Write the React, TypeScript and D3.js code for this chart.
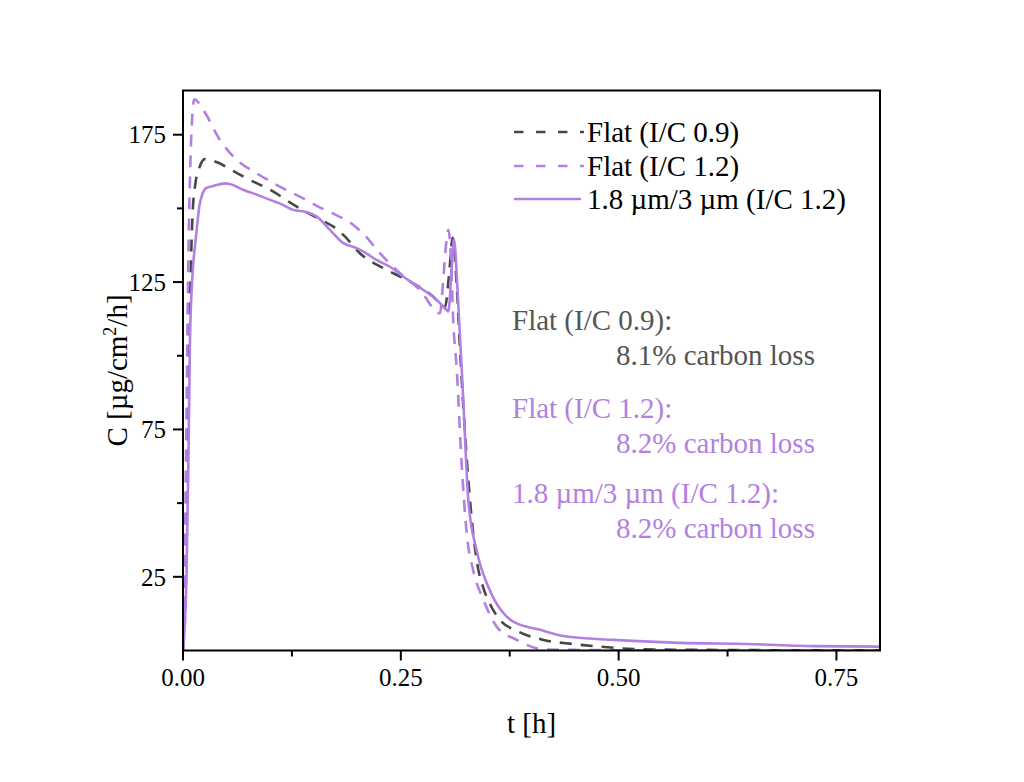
import React from "react";
import * as d3 from "d3";

const flat09T = [0, 0.003, 0.005, 0.007, 0.009, 0.011, 0.014, 0.019, 0.025, 0.033, 0.042, 0.052, 0.073, 0.1, 0.1305, 0.157, 0.1725, 0.184, 0.203, 0.234, 0.264, 0.2873, 0.2988, 0.3007, 0.3055, 0.3095, 0.314, 0.318, 0.3237, 0.3294, 0.337, 0.345, 0.352, 0.364, 0.383, 0.4136, 0.448, 0.4786, 0.517, 0.55, 0.6, 0.7, 0.8];
const flat09C = [0, 20, 60, 100, 130, 148, 158, 164, 166.7, 166.3, 165.3, 163.6, 160.2, 156.3, 150.6, 146.3, 143.8, 141, 134.8, 129.1, 124.6, 120, 116.7, 116.5, 128, 140, 124.6, 102, 73.7, 51, 30.7, 21, 16, 10.3, 6.7, 3.6, 2.2, 1.3, 0.5, 0.3, 0.2, 0.1, 0.1];

const flat12T = [0, 0.002, 0.004, 0.006, 0.008, 0.01, 0.013, 0.0233, 0.0425, 0.0597, 0.0846, 0.111, 0.138, 0.154, 0.1725, 0.1955, 0.21, 0.226, 0.245, 0.272, 0.295, 0.2985, 0.302, 0.3046, 0.308, 0.31, 0.314, 0.32, 0.3256, 0.333, 0.345, 0.36, 0.383, 0.4136, 0.45, 0.5, 0.6, 0.8];
const flat12C = [0, 30, 80, 130, 160, 178, 187, 183.4, 173.2, 167, 161.9, 157.4, 153.4, 150.8, 148.2, 144.4, 140.4, 134.8, 129.1, 122.3, 114.4, 125, 138, 142.7, 130, 113, 96.3, 62.4, 39.8, 27.3, 17.1, 8.1, 3.6, 0.4, 0.2, 0.1, 0, 0];

const structT = [0, 0.002, 0.004, 0.006, 0.008, 0.011, 0.014, 0.0157, 0.0195, 0.027, 0.0348, 0.048, 0.054, 0.069, 0.0807, 0.0999, 0.111, 0.1266, 0.142, 0.1535, 0.1687, 0.184, 0.1994, 0.21, 0.222, 0.2376, 0.2529, 0.2643, 0.276, 0.291, 0.3027, 0.3046, 0.308, 0.311, 0.3153, 0.3217, 0.3275, 0.337, 0.352, 0.3715, 0.379, 0.41, 0.4365, 0.494, 0.5705, 0.647, 0.7235, 0.8];
const structC = [0, 8, 25, 60, 105, 128, 138, 142.7, 152, 157, 157.6, 158.5, 158.3, 156.3, 155.1, 152.9, 151.7, 149.5, 148.7, 147.2, 142.7, 138.2, 136.5, 134.8, 132.5, 130.2, 126.8, 124.6, 122.3, 119, 115.5, 115, 128, 139.5, 121.2, 85, 51, 34, 20.5, 11.5, 9.8, 7, 4.9, 3.6, 2.6, 2.2, 1.5, 1.3];

const xMajor = [0, 0.25, 0.5, 0.75];
const xMinor = [0.125, 0.375, 0.625];
const yMajor = [25, 75, 125, 175];
const yMinor = [50, 100, 150];

const legendLabels = ["Flat (I/C 0.9)", "Flat (I/C 1.2)", "1.8 \u00b5m/3 \u00b5m (I/C 1.2)"];
const noteTitles = ["Flat (I/C 0.9):", "Flat (I/C 1.2):", "1.8 \u00b5m/3 \u00b5m (I/C 1.2):"];
const noteValues = ["8.1% carbon loss", "8.2% carbon loss", "8.2% carbon loss"];

const GREY = "#474747";
const PURPLE = "#b27fe2";
const GREY_TEXT = "#555555";
const FONT = "'Liberation Serif', 'Times New Roman', serif";

const L = 183, R = 880, T = 90.5, B = 650.5;

export default function App() {
  const x = d3.scaleLinear().domain([0, 0.8]).range([L, R]);
  const y = d3.scaleLinear().domain([0, 190]).range([B, T]);
  const line = d3
    .line<[number, number]>()
    .x((d) => x(d[0]))
    .y((d) => y(d[1]))
    .curve(d3.curveMonotoneX);

  const series = [
    { t: flat09T, c: flat09C, color: GREY, dash: "12 9" },
    { t: flat12T, c: flat12C, color: PURPLE, dash: "12 9" },
    { t: structT, c: structC, color: PURPLE, dash: "none" },
  ];

  const legendY = [132, 166, 199];
  const noteColors = [GREY_TEXT, PURPLE, PURPLE];
  const noteTitleY = [330, 418, 503];

  return (
    <svg width={1024} height={782} style={{ display: "block", position: "absolute", left: 0, top: 0 }} fontFamily={FONT}>
      <rect x={0} y={0} width={1024} height={782} fill="#fff" />
      <defs>
        <clipPath id="plotclip">
          <rect x={L} y={T} width={R - L} height={B - T} />
        </clipPath>
      </defs>
      <g clipPath="url(#plotclip)">
        {series.map((s, i) => (
          <path
            key={i}
            d={line(s.t.map((t, j) => [t, s.c[j]] as [number, number])) || ""}
            fill="none"
            stroke={s.color}
            strokeWidth={2.6}
            strokeDasharray={s.dash}
          />
        ))}
      </g>
      <rect x={L} y={T} width={R - L} height={B - T} fill="none" stroke="#000" strokeWidth={2} />
      {xMajor.map((v) => (
        <g key={"xm" + v}>
          <line x1={x(v)} x2={x(v)} y1={B} y2={B + 10} stroke="#000" strokeWidth={2} />
          <text x={x(v)} y={686} fontSize={25} textAnchor="middle" fill="#000">
            {v.toFixed(2)}
          </text>
        </g>
      ))}
      {xMinor.map((v) => (
        <line key={"xn" + v} x1={x(v)} x2={x(v)} y1={B} y2={B + 6} stroke="#000" strokeWidth={2} />
      ))}
      {yMajor.map((v) => (
        <g key={"ym" + v}>
          <line x1={L - 10} x2={L} y1={y(v)} y2={y(v)} stroke="#000" strokeWidth={2} />
          <text x={166} y={y(v)} dy="0.35em" fontSize={25} textAnchor="end" fill="#000">
            {v}
          </text>
        </g>
      ))}
      {yMinor.map((v) => (
        <line key={"yn" + v} x1={L - 6} x2={L} y1={y(v)} y2={y(v)} stroke="#000" strokeWidth={2} />
      ))}
      <text x={(L + R) / 2} y={733} fontSize={29} textAnchor="middle" fill="#000">
        t [h]
      </text>
      <text transform={`translate(127, ${(T + B) / 2}) rotate(-90)`} fontSize={29} textAnchor="middle" fill="#000">
        C [µg/cm<tspan fontSize={18} dy={-11}>2</tspan>
        <tspan dy={11}>/h]</tspan>
      </text>
      {legendLabels.map((lab, i) => (
        <g key={"lg" + i}>
          <line
            x1={514}
            x2={series[i].dash === "none" ? 581 : 584}
            y1={legendY[i]}
            y2={legendY[i]}
            stroke={series[i].color}
            strokeWidth={2.6}
            strokeDasharray={series[i].dash === "none" ? "none" : "9.5 12.5"}
          />
          <text x={587} y={legendY[i] + 10} fontSize={29} fill="#000">
            {lab}
          </text>
        </g>
      ))}
      {noteTitles.map((tt, i) => (
        <g key={"nt" + i} fill={noteColors[i]}>
          <text x={512} y={noteTitleY[i]} fontSize={29}>
            {tt}
          </text>
          <text x={616} y={noteTitleY[i] + 35} fontSize={29}>
            {noteValues[i]}
          </text>
        </g>
      ))}
    </svg>
  );
}
